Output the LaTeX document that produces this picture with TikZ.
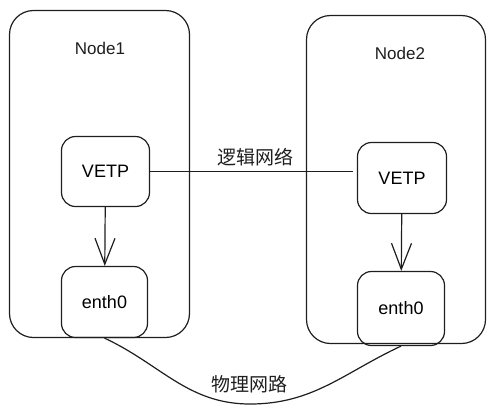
\documentclass[tikz,border=0pt]{standalone}
\usepackage{fontspec}
\setmainfont{Liberation Sans}
\newfontfamily\cjk{Noto Sans CJK SC}
\usepackage{tikz}
\usetikzlibrary{arrows.meta,positioning}
\definecolor{ink}{RGB}{30,30,30}

\begin{document}
\begin{tikzpicture}[x=1pt, y=-1pt]
		\tikzstyle{Host}	= [draw=ink, line width=1.2pt, rounded corners=24pt, inner sep=0pt]
		\tikzstyle{Iface}	= [draw=ink, line width=1.2pt, rounded corners=14pt, inner sep=0pt, font=\fontsize{18}{20}\selectfont]
		\tikzstyle{Title}	= [ink, font=\fontsize{17}{20}\selectfont]
		\tikzstyle{Net}		= [ink, font=\cjk\fontsize{19}{22}\selectfont]
		\tikzstyle{Link}	= [ink, line width=1.2pt]
		\tikzstyle{Down}	= [Link, -{Straight Barb[length=26pt, width=20pt, line width=1.2pt]}]

		\useasboundingbox (0,0) rectangle (495,416);

		\node (host1) at (99.5, 174.0) [Host, minimum width=180pt, minimum height=327pt] {};
		\node (host2) at (396.0, 179.5) [Host, minimum width=179pt, minimum height=328pt] {};
		\node (name1) at (100, 48) [Title] {Node1};
		\node (name2) at (400, 53) [Title] {Node2};

		\node (vetp1) at (105.5, 171.5) [Iface, minimum width=88pt, minimum height=70pt] {VETP};
		\node (eth1) at (104.5, 302.0) [Iface, minimum width=86pt, minimum height=71pt] {enth0};
		\node (vetp2) at (402.0, 178.0) [Iface, minimum width=89pt, minimum height=71pt] {VETP};
		\node (eth2) at (401.0, 308.5) [Iface, minimum width=87pt, minimum height=74pt] {enth0};

		\node (logic) at (255, 157) [Net] {逻辑网络};
		\node (phys) at (249, 384) [Net] {物理网路};
		\coordinate (dip) at (250, 404);

		\draw [Down] (vetp1) -- (eth1);
		\draw [Down] (vetp2) -- (eth2);
		\draw [Link, shorten >=4pt] (vetp1.east) -- (vetp1.east -| vetp2.west);
		\draw [Link] (eth1.south) to[out=-25, in=180] (dip) to[out=0, in=-155] (eth2.south);
	\end{tikzpicture}
\end{document}
